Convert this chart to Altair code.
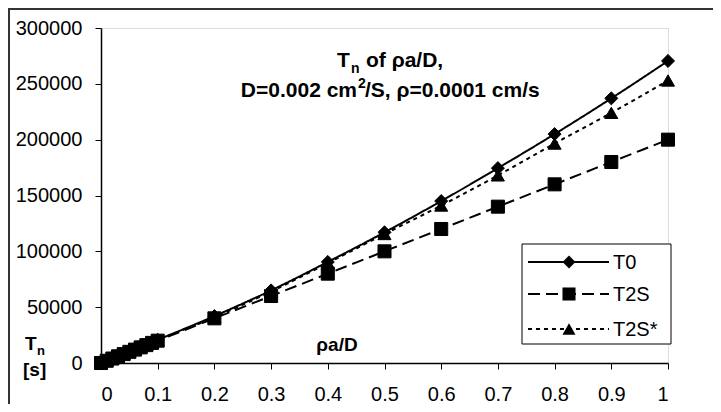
import altair as alt
import pandas as pd

# ---------------- data ----------------
x_vals = [0, 0.01, 0.02, 0.03, 0.04, 0.05, 0.06, 0.07, 0.08, 0.09,
          0.1, 0.2, 0.3, 0.4, 0.5, 0.6, 0.7, 0.8, 0.9, 1.0]
t0 = [0, 2000, 4000, 6100, 8100, 10200, 12300, 14300, 16400, 18600,
      20700, 42000, 65000, 90500, 117000, 145000, 174500, 205000, 237000, 270500]
t2s = [0, 2000, 4000, 6000, 8000, 10000, 12000, 14000, 16000, 18000,
       20000, 40000, 60000, 80000, 100000, 120000, 140000, 160000, 180000, 200000]
t2s_star = [0, 2000, 4000, 6000, 8100, 10100, 12200, 14200, 16300, 18400,
            20500, 41000, 64000, 89500, 115500, 141000, 168000, 196500, 224000, 253000]
series_names = ["T0", "T2S", "T2S*"]
x_ticks = [0, 0.1, 0.2, 0.3, 0.4, 0.5, 0.6, 0.7, 0.8, 0.9, 1]
y_ticks = [0, 50000, 100000, 150000, 200000, 250000, 300000]

shapes = ["diamond", "square", "triangle-up"]
dashes = [[1, 0], [12, 6], [4, 4]]

rows = []
for name, vals in zip(series_names, [t0, t2s, t2s_star]):
    for xv, yv in zip(x_vals, vals):
        rows.append({"x": xv, "y": yv, "series": name})
df = pd.DataFrame(rows)

FONT = "Liberation Sans"
W, H = 567, 335

xenc = alt.X("x:Q", scale=alt.Scale(domain=[0, 1], nice=False, zero=False),
             axis=alt.Axis(values=x_ticks, format=".1~f", title=None,
                           labelFont="Liberation Sans Narrow, Liberation Sans",
                           labelFontSize=20, labelColor="black",
                           tickColor="black", tickSize=6, labelPadding=15,
                           domainColor="black", domainWidth=1.5, grid=False))
yenc = alt.Y("y:Q", scale=alt.Scale(domain=[0, 300000], nice=False),
             axis=alt.Axis(values=y_ticks, format="d", title=None,
                           labelFont=FONT, labelFontSize=20, labelColor="black",
                           tickColor="black", tickSize=6, labelPadding=13,
                           domainColor="black", domainWidth=1.5, grid=False))
shape_enc = alt.Shape("series:N", scale=alt.Scale(domain=series_names, range=shapes), legend=None)
dash_enc = alt.StrokeDash("series:N", scale=alt.Scale(domain=series_names, range=dashes), legend=None)

lines = alt.Chart(df).mark_line(color="black", strokeWidth=2, interpolate="monotone").encode(
    x=xenc, y=yenc, strokeDash=dash_enc, detail="series:N"
)
points = alt.Chart(df).mark_point(filled=True, color="black", size=170, opacity=1,
                                  stroke="black", strokeWidth=1).encode(
    x="x:Q", y="y:Q", shape=shape_enc
)

one = alt.InlineData(values=[{"a": 1}])


def text_layer(txt, x, y, size=20, weight="normal", align="left", font=FONT):
    return alt.Chart(alt.InlineData(values=[{"t": txt}])).mark_text(
        font=font, fontSize=size, fontWeight=weight, align=align,
        baseline="alphabetic", color="black"
    ).encode(x=alt.value(x), y=alt.value(y), text="t:N")


# Legend box (plot coordinates: page - (101, 28))
legend_layers = [
    alt.Chart(one).mark_rect(fill="white", stroke="black", strokeWidth=1).encode(
        x=alt.value(421), x2=alt.value(570), y=alt.value(216), y2=alt.value(316))
]
row_y = [234, 266, 301]
for name, shp, dsh, ry in zip(series_names, shapes, dashes, row_y):
    legend_layers.append(
        alt.Chart(one).mark_rule(color="black", strokeWidth=2, strokeDash=dsh).encode(
            x=alt.value(427), x2=alt.value(508), y=alt.value(ry)))
    legend_layers.append(
        alt.Chart(one).mark_point(shape=shp, filled=True, color="black", size=170,
                                  opacity=1).encode(x=alt.value(468), y=alt.value(ry)))
    legend_layers.append(text_layer(name, 512, ry + 7, size=20))

# Titles / annotations
ann = [
    text_layer("T", 236, 39, size=21, weight="bold"),
    text_layer("n", 250, 45, size=14, weight="bold"),
    text_layer("of ρa/D,", 265, 39, size=21, weight="bold"),
    text_layer("D=0.002 cm", 256, 69, size=21, weight="bold", align="right"),
    text_layer("2", 257, 60, size=14, weight="bold"),
    text_layer("/S, ρ=0.0001 cm/s", 264, 69, size=21, weight="bold"),
    text_layer("ρa/D", 236, 323, size=19, weight="bold", align="center"),
    text_layer("T", -76, 322, size=19, weight="bold"),
    text_layer("n", -64, 327, size=13, weight="bold"),
    text_layer("[s]", -78, 348, size=19, weight="bold"),
]

# Outer frame (top and left edges of the chart area)
frame = [
    alt.Chart(one).mark_rule(color="#333333", strokeWidth=2).encode(
        x=alt.value(-93), x2=alt.value(620), y=alt.value(-19)),
    alt.Chart(one).mark_rule(color="#333333", strokeWidth=2).encode(
        x=alt.value(-92), y=alt.value(-20), y2=alt.value(380)),
]

chart = alt.layer(lines, points, *legend_layers, *ann, *frame).properties(
    width=W, height=H,
    autosize=alt.AutoSizeParams(type="none"),
    padding={"left": 93, "top": 20, "right": 45, "bottom": 41},
).configure_view(
    stroke="#808080", strokeWidth=2
).configure(background="white")

chart.save("out.html", embed_options={"renderer": "svg", "actions": False})
